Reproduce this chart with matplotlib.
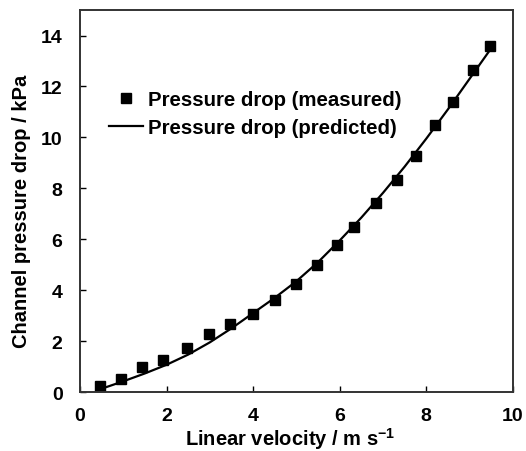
import numpy as np
import matplotlib
matplotlib.use('Agg')
import matplotlib.pyplot as plt

plt.rcParams['font.family'] = ['Liberation Sans', 'DejaVu Sans']
plt.rcParams['font.weight'] = 'bold'
plt.rcParams['mathtext.fontset'] = 'custom'
plt.rcParams['mathtext.rm'] = 'Liberation Sans:bold'
plt.rcParams['mathtext.bf'] = 'Liberation Sans:bold'
plt.rcParams['mathtext.default'] = 'rm'

# measured points
v_meas = [0.47, 0.95, 1.43, 1.92, 2.48, 2.99, 3.47, 3.99, 4.50, 4.98,
          5.47, 5.94, 6.34, 6.84, 7.33, 7.77, 8.20, 8.62, 9.07, 9.48]
dp_meas = [0.22, 0.51, 1.00, 1.27, 1.74, 2.29, 2.68, 3.08, 3.60, 4.25,
           4.99, 5.78, 6.47, 7.44, 8.31, 9.27, 10.50, 11.38, 12.63, 13.58]

# predicted curve
v_pred = [0.5, 1.0, 1.5, 2.0, 2.5, 3.0, 3.5, 4.0, 4.5, 5.0,
          5.5, 6.0, 6.5, 7.0, 7.5, 8.0, 8.5, 9.0, 9.45]
dp_pred = [0.13, 0.42, 0.73, 1.07, 1.47, 1.95, 2.50, 3.10, 3.70, 4.35,
           5.10, 5.95, 6.85, 7.82, 8.85, 9.95, 11.10, 12.30, 13.38]

x_ticks = [0, 2, 4, 6, 8, 10]
y_ticks = [0, 2, 4, 6, 8, 10, 12, 14]

fig = plt.figure(figsize=(5.26, 4.52), dpi=100)
ax = fig.add_axes([0.152, 0.1305, 0.823, 0.845])

ax.plot(v_meas, dp_meas, 's', color='black', ms=6.5, label='Pressure drop (measured)')
ax.plot(v_pred, dp_pred, '-', color='black', lw=1.6, label='Pressure drop (predicted)')

ax.set_xlim(0, 10)
ax.set_ylim(0, 15)
ax.set_xticks(x_ticks)
ax.set_yticks(y_ticks)
ax.tick_params(direction='in', length=4.5, width=1, labelsize=14,
               top=False, right=False)
ax.tick_params(axis='x', pad=11)
ax.tick_params(axis='y', pad=12.5)
for lab in ax.get_xticklabels() + ax.get_yticklabels():
    lab.set_fontweight('bold')
for sp in ax.spines.values():
    sp.set_linewidth(1.4)
    sp.set_color('#333333')

ax.set_xlabel(r'Linear velocity / m s$^{-1}$', fontsize=14.5, fontweight='bold')
ax.set_ylabel('Channel pressure drop / kPa', fontsize=14.5, fontweight='bold')
ax.xaxis.set_label_coords(0.485, -0.086)
ax.yaxis.set_label_coords(-0.113, 0.476)

leg = fig.legend(loc='upper left', bbox_to_anchor=(0.207, 0.798), frameon=False,
                 fontsize=14.7, handlelength=1.66, handletextpad=0.25, labelspacing=0.42,
                 borderpad=0, borderaxespad=0)
for t in leg.get_texts():
    t.set_fontweight('bold')

fig.savefig('out.png', dpi=100)
